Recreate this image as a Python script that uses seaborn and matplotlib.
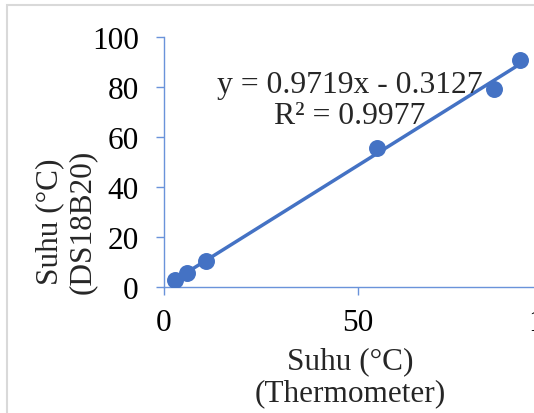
import numpy as np
import pandas as pd
import matplotlib
matplotlib.use('Agg')
import matplotlib.pyplot as plt
from matplotlib.patches import Rectangle
import seaborn as sns

sns.set_theme(style='white')
plt.rcParams['font.family'] = ['Liberation Serif', 'DejaVu Serif']

# data
thermometer = [3.0, 6.0, 10.9, 54.9, 85.0, 91.7]
ds18b20 = [2.8, 5.5, 10.3, 55.6, 79.2, 90.9]
x_ticks = [0, 50, 100]
y_ticks = [0, 20, 40, 60, 80, 100]
eq_text = 'y = 0.9719x - 0.3127\nR² = 0.9977'

df = pd.DataFrame({'Thermometer': thermometer, 'DS18B20': ds18b20})

W, H = 534, 414
fig = plt.figure(figsize=(W / 100, H / 100), dpi=100)
# plot area (right part runs off the picture, like the cropped original)
ax = fig.add_axes([163.5 / W, (H - 288) / H, 388.4 / W, 250 / H])

blue = '#4472C4'
axis_col = '#6A93DA'

sns.regplot(data=df, x='Thermometer', y='DS18B20', ax=ax, ci=None,
            color=blue, scatter_kws={'s': 125, 'alpha': 1, 'zorder': 3},
            line_kws={'lw': 2.5})

ax.set_xlim(0, 100)
ax.set_ylim(0, 100)
ax.set_xticks(x_ticks)
ax.set_yticks(y_ticks)
ax.set_xlabel('')
ax.set_ylabel('')
ax.tick_params(axis='both', direction='out', length=5.8, width=1,
               color=axis_col, labelsize=22.5, labelcolor='black', bottom=True, left=True)
ax.tick_params(axis='y', pad=12)
ax.tick_params(axis='x', pad=9)
for s in ['top', 'right']:
    ax.spines[s].set_visible(False)
for s in ['left', 'bottom']:
    ax.spines[s].set_color(axis_col)
    ax.spines[s].set_linewidth(1)
ax.patch.set_alpha(0)

ax.text(48.0, 74.8, eq_text, ha='center', va='center', fontsize=22.8,
        linespacing=1.1, multialignment='center')

fig.text(350 / W, 1 - 378 / H, 'Suhu (°C)\n(Thermometer)', ha='center', va='center',
         fontsize=22.5, linespacing=1.15, multialignment='center')
fig.text(66 / W, 1 - 222 / H, 'Suhu (°C)\n(DS18B20)', ha='center', va='center',
         fontsize=22.5, linespacing=1.15, rotation=90, multialignment='center')

fig.patches.append(Rectangle((7 / W, -0.1), 2, 1 - 6 / H + 0.1, transform=fig.transFigure,
                             fill=False, edgecolor='#d9d9d9', lw=1.5))

fig.savefig('out.png', dpi=100)
